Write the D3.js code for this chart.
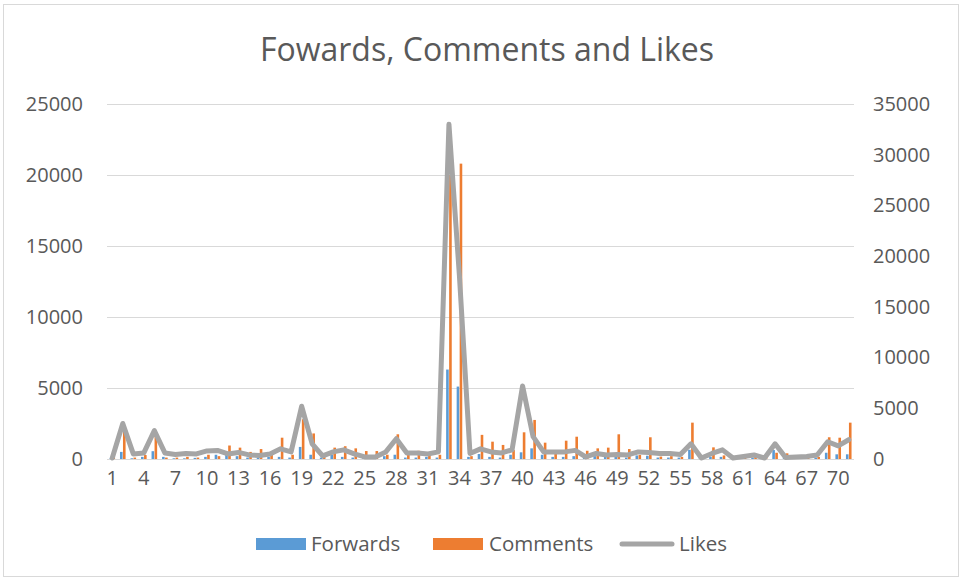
<!DOCTYPE html>
<html>
<head>
<meta charset="utf-8">
<script src="https://cdn.jsdelivr.net/npm/d3@7"></script>
<style>
  html, body { margin: 0; padding: 0; background: #fff; }
  svg { display: block; }
  text { font-family: "Open Sans", "Liberation Sans", sans-serif; fill: #595959; }
</style>
</head>
<body>
<svg id="chart" width="965" height="581"></svg>
<script>
const categories = d3.range(1, 72).map(String);
const tickLabels = d3.range(1, 72, 3).map(String);
const forwards = [50,500,50,150,550,150,50,50,80,150,300,300,200,100,100,150,150,100,850,300,100,300,150,100,50,100,200,300,100,100,150,100,6300,5100,150,350,150,100,300,470,750,300,150,150,200,100,200,150,200,100,250,230,100,100,100,650,50,150,150,50,50,100,50,630,100,50,50,100,440,330,330];
const comments = [100,2100,100,280,1600,100,100,150,100,300,200,950,800,500,700,300,1500,300,2800,1800,200,800,900,750,560,560,300,1740,300,580,300,300,20000,20800,200,1700,1220,990,630,1880,2750,1150,630,1290,1570,580,750,800,1740,700,280,1530,170,200,150,2560,100,820,250,100,200,300,150,440,400,100,100,150,1530,1500,2560];
const likes = [100,3500,500,600,2800,600,450,550,500,800,850,500,650,400,350,500,1000,700,5200,1500,300,700,900,500,200,200,700,2000,600,600,500,700,33000,18000,550,1000,700,600,900,7200,2200,700,700,700,850,200,550,400,450,400,700,650,550,550,450,1500,100,550,900,100,250,400,100,1500,150,200,250,400,1700,1300,1900];
const leftTicks = [0,5000,10000,15000,20000,25000];
const rightTicks = [0,5000,10000,15000,20000,25000,30000,35000];
const seriesNames = ["Forwards","Comments","Likes"];
const colors = {Forwards:"#5B9BD5", Comments:"#ED7D31", Likes:"#A5A5A5"};

const svg = d3.select("#chart");
// chart border
svg.append("rect").attr("x",3.5).attr("y",4.5).attr("width",955).attr("height",572)
  .attr("fill","#fff").attr("stroke","#D9D9D9").attr("stroke-width",1);

const plot = {left:107, right:854, top:104, bottom:459};
const x = d3.scaleBand().domain(categories).range([plot.left, plot.right]).paddingInner(0).paddingOuter(0);
const yL = d3.scaleLinear().domain([0,25000]).range([plot.bottom, plot.top]);
const yR = d3.scaleLinear().domain([0,35000]).range([plot.bottom, plot.top]);

// gridlines
svg.append("g").selectAll("line").data(leftTicks).join("line")
  .attr("x1",plot.left).attr("x2",plot.right)
  .attr("y1",d=>Math.round(yL(d))+0.5).attr("y2",d=>Math.round(yL(d))+0.5)
  .attr("stroke","#D9D9D9").attr("stroke-width",1);

const fs = 20;
// left axis
const axL = d3.axisLeft(yL).tickValues(leftTicks).tickSize(0).tickPadding(0).tickFormat(d3.format("d"));
const gL = svg.append("g").attr("transform",`translate(${plot.left-24},0)`).call(axL);
gL.select(".domain").remove();
gL.selectAll("text").attr("font-size",fs).attr("fill","#595959").style("font-family","'Open Sans', sans-serif");

// right axis
const axR = d3.axisRight(yR).tickValues(rightTicks).tickSize(0).tickPadding(0).tickFormat(d3.format("d"));
const gR = svg.append("g").attr("transform",`translate(${plot.right+19},0)`).call(axR);
gR.select(".domain").remove();
gR.selectAll("text").attr("font-size",fs).attr("fill","#595959").style("font-family","'Open Sans', sans-serif");

// bars
const bw = 2.6;
const cx = d => x(d) + x.bandwidth()/2;
svg.append("g").selectAll("rect").data(categories).join("rect")
  .attr("x",(d,i)=>cx(d)-bw-0.2).attr("width",bw)
  .attr("y",(d,i)=>yL(forwards[i])).attr("height",(d,i)=>plot.bottom-yL(forwards[i]))
  .attr("fill",colors.Forwards);
svg.append("g").selectAll("rect").data(categories).join("rect")
  .attr("x",(d,i)=>cx(d)+0.2).attr("width",bw)
  .attr("y",(d,i)=>yL(comments[i])).attr("height",(d,i)=>plot.bottom-yL(comments[i]))
  .attr("fill",colors.Comments);

// x axis line
svg.append("line").attr("x1",plot.left).attr("x2",plot.right)
  .attr("y1",plot.bottom+0.5).attr("y2",plot.bottom+0.5).attr("stroke","#D9D9D9");

// likes line
const line = d3.line().x((d,i)=>cx(categories[i])).y(d=>yR(d));
svg.append("path").datum(likes).attr("d",line).attr("fill","none")
  .attr("stroke",colors.Likes).attr("stroke-width",5).attr("stroke-linejoin","round").attr("stroke-linecap","round");

// x axis labels
const axX = d3.axisBottom(x).tickValues(tickLabels).tickSize(0).tickPadding(0);
const gX = svg.append("g").attr("transform",`translate(0,${plot.bottom+7})`).call(axX);
gX.select(".domain").remove();
gX.selectAll("text").attr("font-size",fs).attr("dy","0.95em").attr("fill","#595959").style("font-family","'Open Sans', sans-serif");

// title
svg.append("text").attr("x",487).attr("y",61).attr("text-anchor","middle")
  .attr("font-size",32).text("Fowards, Comments and Likes");

// legend
const legend = [
  {name:"Forwards", sx:256, tx:311},
  {name:"Comments", sx:433, tx:489},
  {name:"Likes", sx:622, tx:679}
];
const lg = svg.append("g");
legend.forEach(l => {
  if (l.name === "Likes") {
    lg.append("line").attr("x1",l.sx).attr("x2",l.sx+50).attr("y1",544).attr("y2",544)
      .attr("stroke",colors.Likes).attr("stroke-width",5).attr("stroke-linecap","round");
  } else {
    lg.append("rect").attr("x",l.sx).attr("y",538).attr("width",50).attr("height",12).attr("fill",colors[l.name]);
  }
  lg.append("text").attr("x",l.tx).attr("y",551).attr("font-size",20.5).text(l.name);
});
</script>
</body>
</html>
